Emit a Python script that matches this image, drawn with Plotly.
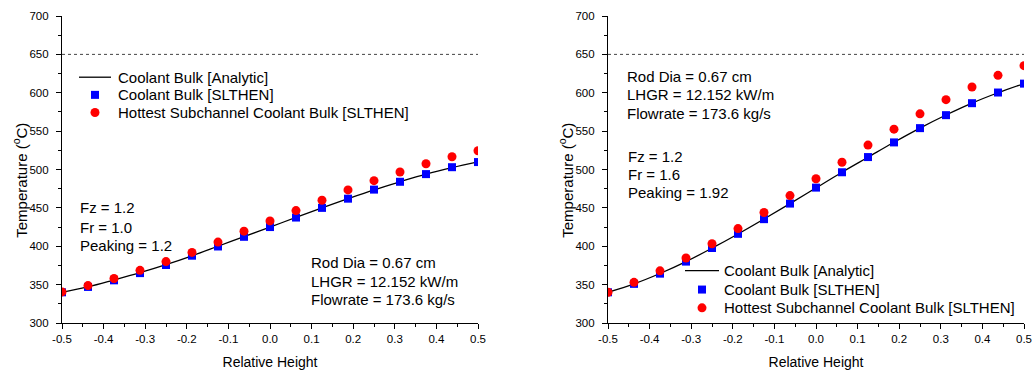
import plotly.graph_objects as go

# ---------------- data ----------------
REL_HEIGHT = [-0.5, -0.4375, -0.375, -0.3125, -0.25, -0.1875, -0.125, -0.0625, 0.0,
              0.0625, 0.125, 0.1875, 0.25, 0.3125, 0.375, 0.4375, 0.5]

# Case 1 : Fz = 1.2, Fr = 1.0
C1_ANALYTIC = [340, 347, 356, 365.5, 376, 387.5, 400, 412.5, 425, 437.5, 450, 462, 473.5, 484, 494, 502.5, 510]
C1_BULK = [340, 347, 355.6, 365, 375.6, 387.7, 399.7, 412.3, 425, 437.4, 450, 462, 473.8, 484, 494, 503, 509.7]
C1_HOT = [340.5, 348.7, 358, 368.6, 380, 392, 405.4, 419.7, 433, 446.5, 460, 473.4, 485.5, 496.8, 507.5, 516.6, 524.4]

# Case 2 : Fz = 1.2, Fr = 1.6
C2_ANALYTIC = [340, 351, 364.5, 380, 397.5, 416, 435.5, 455.5, 476, 496.5, 516, 535.5, 554, 571, 586.5, 600, 612]
C2_BULK = [340, 351, 364.3, 380, 397.7, 416.2, 435.3, 455.6, 476.4, 496.4, 516.2, 535.3, 553.9, 570.8, 586.4, 600.3, 611.9]
C2_HOT = [340, 353, 368, 384.7, 403.2, 423, 444, 466, 488, 509.4, 531.8, 552.6, 572.5, 591, 607.5, 622.7, 635.3]

LIMIT = 650

X_TICKS = [-0.5, -0.4, -0.3, -0.2, -0.1, 0.0, 0.1, 0.2, 0.3, 0.4, 0.5]
X_TICK_LABELS = ["-0.5", "-0.4", "-0.3", "-0.2", "-0.1", "0.0", "0.1", "0.2", "0.3", "0.4", "0.5"]
Y_TICKS = [300, 350, 400, 450, 500, 550, 600, 650, 700]

X_TITLE = "Relative Height"
Y_TITLE = "Temperature (<sup>o</sup>C)"
LEGEND_NAMES = ["Coolant Bulk [Analytic]", "Coolant Bulk [SLTHEN]",
                "Hottest Subchannel Coolant Bulk [SLTHEN]"]
LEFT_PARAMS = ["Fz = 1.2", "Fr = 1.0", "Peaking = 1.2"]
RIGHT_PARAMS = ["Fz = 1.2", "Fr = 1.6", "Peaking = 1.92"]
GEOM = ["Rod Dia = 0.67 cm", "LHGR = 12.152 kW/m", "Flowrate = 173.6 kg/s"]

# ---------------- layout constants ----------------
W, H = 1032, 372
# plot area in window pixels: left 62, right 1024, top 15.7, bottom 323.5
ML = 62
MR = W - 1024
MT = 16
MB = H - 323.5
PW, PH = W - ML - MR, H - MT - MB
FONT = "Liberation Sans, Arial, sans-serif"
BLUE = "#0000ff"
RED = "#ff0000"


def px_x(px):
    """window pixel x -> paper fraction"""
    return (px - ML) / PW


def px_y(py):
    """window pixel y -> paper fraction"""
    return 1 - (py - MT) / PH


fig = go.Figure()

for (xa, ya), ana, bulk, hot in [(("x", "y"), C1_ANALYTIC, C1_BULK, C1_HOT),
                                 (("x2", "y2"), C2_ANALYTIC, C2_BULK, C2_HOT)]:
    fig.add_trace(go.Scatter(x=REL_HEIGHT, y=ana, mode="lines", line=dict(color="black", width=1.3, shape="spline"),
                             name=LEGEND_NAMES[0], xaxis=xa, yaxis=ya, showlegend=False))
    fig.add_trace(go.Scatter(x=REL_HEIGHT, y=bulk, mode="markers",
                             marker=dict(symbol="square", size=8, color=BLUE, line=dict(width=0)),
                             name=LEGEND_NAMES[1], xaxis=xa, yaxis=ya, showlegend=False))
    fig.add_trace(go.Scatter(x=REL_HEIGHT, y=hot, mode="markers",
                             marker=dict(symbol="circle", size=9, color=RED, line=dict(width=0)),
                             name=LEGEND_NAMES[2], xaxis=xa, yaxis=ya, showlegend=False))

tickfont = dict(family=FONT, size=11.5, color="black")
titlefont = dict(family=FONT, size=14, color="black")


def xaxis_main(domain, anchor):
    return dict(domain=domain, anchor=anchor, range=[-0.5, 0.5], tickvals=X_TICKS, ticktext=X_TICK_LABELS,
                ticks="outside", ticklen=5, tickwidth=1, tickcolor="black",
                minor=dict(ticks="outside", ticklen=3, dtick=0.05, tickcolor="black", tickwidth=1),
                showline=True, linecolor="black", linewidth=1.2, showgrid=False, zeroline=False,
                tickfont=tickfont, title=dict(text=X_TITLE, font=titlefont, standoff=13),
                automargin=False)


def yaxis_main(anchor):
    return dict(domain=[0, 1], anchor=anchor, range=[300, 700], tickvals=Y_TICKS,
                ticks="outside", ticklen=5, tickwidth=1, tickcolor="black",
                minor=dict(ticks="outside", ticklen=3, dtick=25, tickcolor="black", tickwidth=1),
                showline=True, linecolor="black", linewidth=1.2, showgrid=False, zeroline=False,
                tickfont=tickfont, ticklabelstandoff=5, automargin=False)


def xaxis_top(over, anchor, domain):
    return dict(overlaying=over, anchor=anchor, side="top", domain=domain, range=[-0.5, 0.5], tickvals=X_TICKS,
                ticks="inside", ticklen=5, tickcolor="black", showticklabels=False,
                minor=dict(ticks="inside", ticklen=3, dtick=0.05, tickcolor="black"),
                showline=True, linecolor="black", linewidth=1.2, showgrid=False, zeroline=False)


def yaxis_right(over, anchor):
    return dict(overlaying=over, anchor=anchor, side="right", range=[300, 700], tickvals=Y_TICKS,
                ticks="inside", ticklen=5, tickcolor="black", showticklabels=False,
                minor=dict(ticks="inside", ticklen=3, dtick=25, tickcolor="black"),
                showline=True, linecolor="black", linewidth=1.2, showgrid=False, zeroline=False)


LEFT_DOM = [px_x(62), px_x(478)]
RIGHT_DOM = [px_x(608), px_x(1024)]

fig.update_layout(
    width=W, height=H, margin=dict(l=ML, r=MR, t=MT, b=MB),
    paper_bgcolor="white", plot_bgcolor="white", showlegend=False,
    font=dict(family=FONT, color="black"),
    xaxis=xaxis_main(LEFT_DOM, "y"),
    yaxis=yaxis_main("x"),
    xaxis2=xaxis_main(RIGHT_DOM, "y2"),
    yaxis2=yaxis_main("x2"),
    xaxis3=xaxis_top("x", "y", LEFT_DOM),
    yaxis3=yaxis_right("y", "x"),
    xaxis4=xaxis_top("x2", "y2", RIGHT_DOM),
    yaxis4=yaxis_right("y2", "x2"),
)

shapes = []
annotations = []

# 650 reference line
for xr, yr in [("x", "y"), ("x2", "y2")]:
    shapes.append(dict(type="line", xref=f"{xr} domain", yref=yr, x0=0, x1=1, y0=LIMIT, y1=LIMIT,
                       line=dict(color="#444444", width=1, dash="dot")))

TXT = dict(family=FONT, size=15, color="black")


def text(px, py, s):
    annotations.append(dict(xref="paper", yref="paper", x=px_x(px), y=px_y(py), text=s, showarrow=False,
                            xanchor="left", yanchor="middle", font=TXT))


def legend(line_x0, line_x1, text_x, rows):
    mx = (line_x0 + line_x1) / 2
    shapes.append(dict(type="line", xref="paper", yref="paper", x0=px_x(line_x0), x1=px_x(line_x1),
                       y0=px_y(rows[0]), y1=px_y(rows[0]), line=dict(color="black", width=1.3)))
    shapes.append(dict(type="rect", xref="paper", yref="paper", xsizemode="pixel", ysizemode="pixel",
                       xanchor=px_x(mx), yanchor=px_y(rows[1]), x0=-4, x1=4, y0=-4, y1=4,
                       fillcolor=BLUE, line=dict(width=0)))
    shapes.append(dict(type="circle", xref="paper", yref="paper", xsizemode="pixel", ysizemode="pixel",
                       xanchor=px_x(mx), yanchor=px_y(rows[2]), x0=-4.5, x1=4.5, y0=-4.5, y1=4.5,
                       fillcolor=RED, line=dict(width=0)))
    for name, r in zip(LEGEND_NAMES, rows):
        text(text_x, r, name)


legend(79, 111, 116, [77.3, 95, 112.7])
legend(685, 719, 722, [271, 290, 308.3])

for s, r in zip(LEFT_PARAMS, [207.7, 227.7, 246]):
    text(78, r, s)
for s, r in zip(GEOM, [262.7, 281.7, 300]):
    text(309, r, s)
for s, r in zip(GEOM, [76.7, 95, 113.3]):
    text(625, r, s)
for s, r in zip(RIGHT_PARAMS, [157, 175, 193]):
    text(626, r, s)

# y-axis titles (rotated), same offset from each plot's left axis
for cx in (20, 566):
    annotations.append(dict(xref="paper", yref="paper", x=px_x(cx), y=px_y(181), text=Y_TITLE,
                            textangle=-90, showarrow=False, xanchor="center", yanchor="middle",
                            font=dict(family=FONT, size=15, color="black")))

fig.update_layout(shapes=shapes, annotations=annotations)

fig.write_html("out.html", config={"displayModeBar": False},
               post_script="document.body.style.margin='0';document.body.style.overflow='hidden';")
